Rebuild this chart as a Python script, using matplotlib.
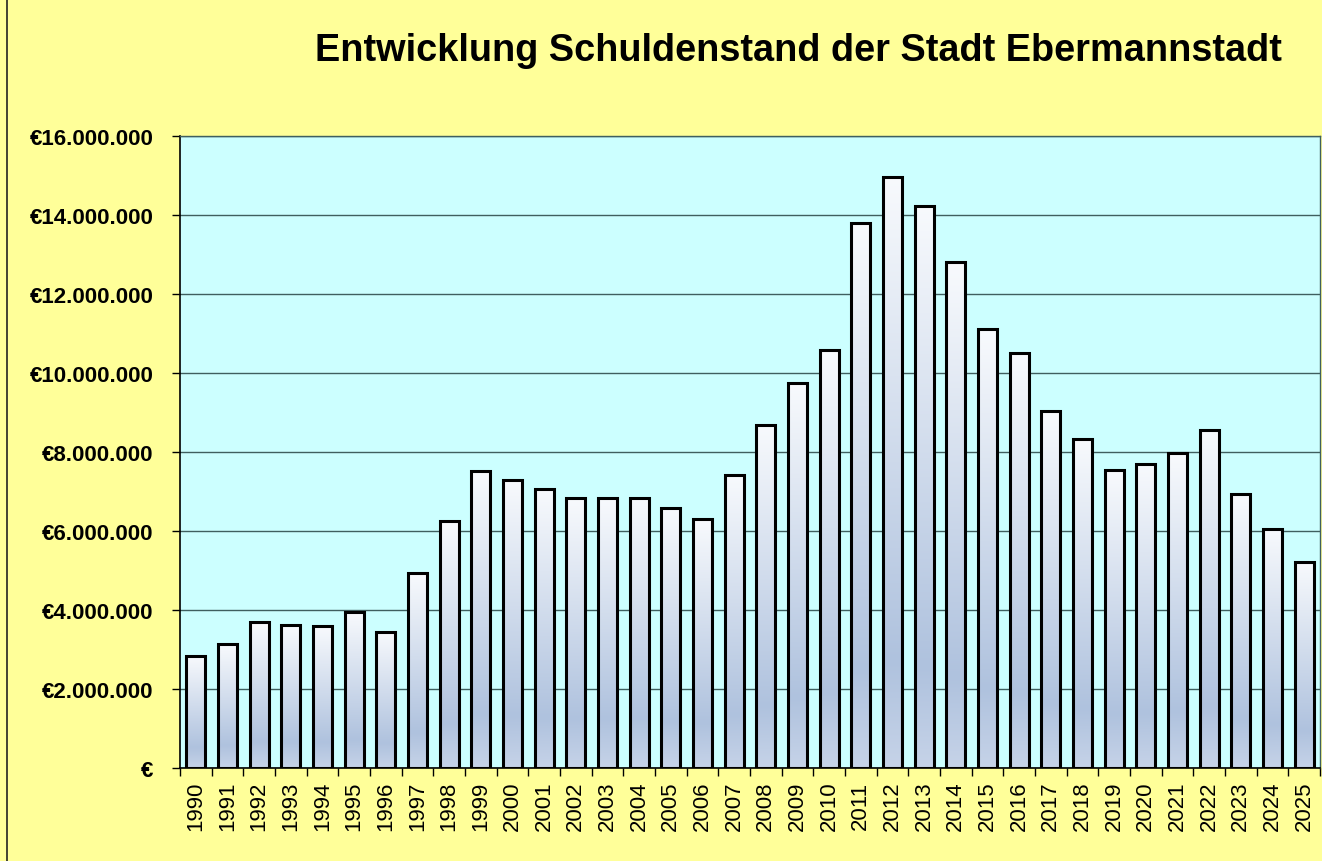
import numpy as np
import matplotlib
matplotlib.use("Agg")
import matplotlib.pyplot as plt
from matplotlib.colors import LinearSegmentedColormap
from matplotlib.ticker import FuncFormatter, FixedLocator
from matplotlib.patches import Rectangle

# Daten: Schuldenstand pro Jahr
jahre = [str(j) for j in range(1990, 2026)]
schulden = [2840000, 3130000, 3690000, 3620000, 3590000, 3940000, 3450000, 4930000,
            6250000, 7530000, 7300000, 7060000, 6830000, 6830000, 6830000, 6570000,
            6300000, 7430000, 8690000, 9750000, 10580000, 13810000, 14970000, 14240000,
            12800000, 11110000, 10510000, 9050000, 8320000, 7540000, 7700000, 7970000,
            8560000, 6940000, 6060000, 5220000]
y_ticks = [0, 2000000, 4000000, 6000000, 8000000, 10000000, 12000000, 14000000, 16000000]
titel = "Entwicklung Schuldenstand der Stadt Ebermannstadt"

plt.rcParams['font.family'] = ['Liberation Sans', 'DejaVu Sans']

fig = plt.figure(figsize=(13.22, 8.62), dpi=100, facecolor='#FFFF99')
ax = fig.add_axes([180 / 1322, 1 - 769 / 862, 1140 / 1322, 632 / 862])
ax.set_facecolor('#CCFFFF')

# Rahmen links
fig.patches.append(Rectangle((7 / 1322, -0.1), 1.2, 1.2, transform=fig.transFigure,
                             facecolor='none', edgecolor='#222222', linewidth=1.2))

x = np.arange(len(jahre))
bars = ax.bar(x, schulden, width=0.6, facecolor='none', edgecolor='black',
              linewidth=2.2, zorder=3)

# Farbverlauf in den Balken
cmap = LinearSegmentedColormap.from_list('verlauf', [(0.0, '#F8FAFD'), (0.82, '#AFC2DE'), (1.0, '#C6D3E8')])
grad = np.linspace(0, 1, 256).reshape(-1, 1)
for b in bars:
    x0, w, h = b.get_x(), b.get_width(), b.get_height()
    im = ax.imshow(grad, cmap=cmap, extent=[x0, x0 + w, 0, h], origin='upper',
                   aspect='auto', zorder=2)
    im.set_clip_path(b)

ax.set_xlim(-0.5, len(jahre) - 0.5)
ax.set_ylim(0, 16000000)

# Gitterlinien
ax.yaxis.set_major_locator(FixedLocator(y_ticks))
ax.grid(axis='y', color='#3F5F5F', linewidth=1.0, zorder=1)
ax.set_axisbelow(True)


def euro(v, pos):
    if v == 0:
        return '€'
    return '€' + f"{v:,.0f}".replace(',', '.')


ax.yaxis.set_major_formatter(FuncFormatter(euro))
ax.tick_params(axis='y', length=6, width=1, direction='out', pad=13, labelsize=16)
for lab in ax.get_yticklabels():
    lab.set_fontweight('bold')

# x-Achse: Striche zwischen den Balken, Beschriftung mittig
ax.set_xticks(x)
ax.set_xticklabels(jahre, rotation=90, fontsize=16)
ax.tick_params(axis='x', which='major', length=0, pad=9)
ax.set_xticks(np.arange(len(jahre) + 1) - 0.5, minor=True)
ax.tick_params(axis='x', which='minor', length=6, width=1, direction='out')

for s in ['left', 'bottom']:
    ax.spines[s].set_color('black')
    ax.spines[s].set_linewidth(1.2)
for s in ['top', 'right']:
    ax.spines[s].set_color('#3F5F5F')
    ax.spines[s].set_linewidth(1.0)

fig.text(798 / 1322, 1 - 51 / 862, titel, ha='center', va='center',
         fontsize=27.3, fontweight='bold')

fig.savefig('out.png', dpi=100, facecolor=fig.get_facecolor())
